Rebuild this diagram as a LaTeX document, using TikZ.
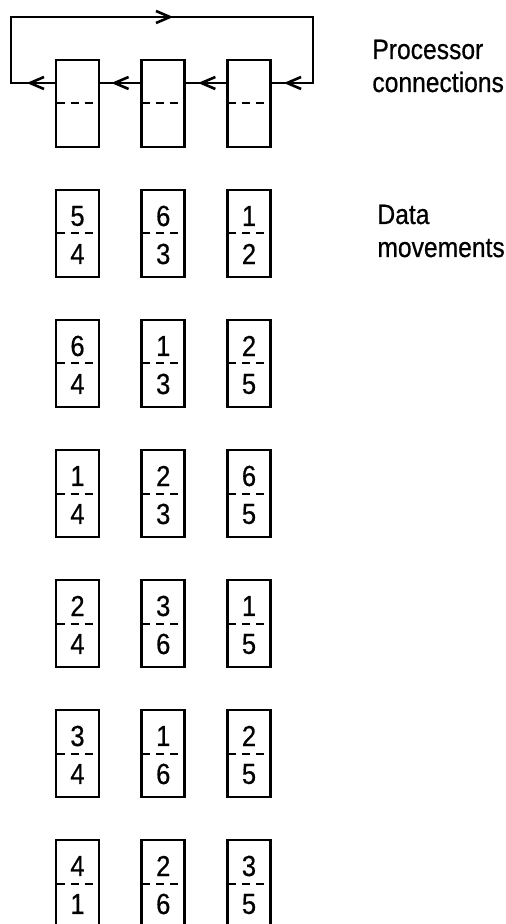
\documentclass[tikz,border=0pt]{standalone}
\usepackage{fontspec}
\setmainfont[FakeStretch=0.88,FakeBold=0.6]{Liberation Sans}
\usetikzlibrary{arrows.meta,decorations.markings}
\tikzset{barb/.tip={Straight Barb[length=7pt,width=6pt]}}

\begin{document}
\begin{tikzpicture}[x=0.5pt, y=-0.5pt,
    cell/.style={draw, line width=1.3pt, inner sep=0pt, minimum width=21.5pt, minimum height=43.5pt},
    halfline/.style={line width=1pt, dash pattern=on 4pt off 3pt},
    conn/.style={line width=1.3pt},
    tipat/.style={postaction={decorate}, decoration={markings, mark=at position #1 with {\arrow{barb}}}},
    digit/.style={inner sep=0pt, font=\fontsize{14.5}{16.5}\selectfont},
    lbl/.style={inner sep=0pt, anchor=base west, align=left, font=\fontsize{14}{16.5}\selectfont}]
    \useasboundingbox (0,0) rectangle (505,924);
    % Processors
    \node[cell] (p1) at (77.5,103.5) {};
    \node[cell] (p2) at (163.25,103.5) {};
    \node[cell] (p3) at (249,103.5) {};
    \foreach \p in {p1,p2,p3}
      \draw[halfline] ([xshift=1pt]\p.west) -- ([xshift=-1pt]\p.east);
    % Ring connections
    \coordinate (lmid) at (11,83);
    \coordinate (ltop) at (11,17);
    \coordinate (rtop) at (313,17);
    \coordinate (rmid) at (313,83);
    \draw[conn, postaction={decorate}, decoration={markings,
        mark=at position 14pt with {\arrow{barb}},
        mark=at position 136pt with {\arrow{barb}},
        mark=at position -6pt with {\arrow{barb}}}]
      (lmid -| p1.west) -- (lmid) -- (ltop) -- (rtop) -- (rmid) -- (rmid -| p3.east);
    \draw[conn, tipat=-6pt] (rmid -| p3.west) -- (rmid -| p2.east);
    \draw[conn, tipat=-5.5pt] (rmid -| p2.west) -- (rmid -| p1.east);
    \node[lbl] (proc) at (372,92) {Processor\\connections};
    % Data movements
    \foreach [count=\r] \row in {{5/4,6/3,1/2},{6/4,1/3,2/5},{1/4,2/3,6/5},
                                 {2/4,3/6,1/5},{3/4,1/6,2/5},{4/1,2/6,3/5}} {
      \foreach [count=\c] \u/\l in \row {
        \node[cell] (d\r\c) at ({77.5+85.75*(\c-1)},{233.5+130*(\r-1)}) {};
        \draw[halfline] ([xshift=1pt]d\r\c.west) -- ([xshift=-1pt]d\r\c.east);
        \node[digit] (u\r\c) at ([yshift=8.75pt]d\r\c.center) {\u};
        \node[digit] (l\r\c) at ([yshift=-10.25pt]d\r\c.center) {\l};
      }
    }
    \node[lbl] (data) at (377,257) {Data\\movements};
\end{tikzpicture}
\end{document}
